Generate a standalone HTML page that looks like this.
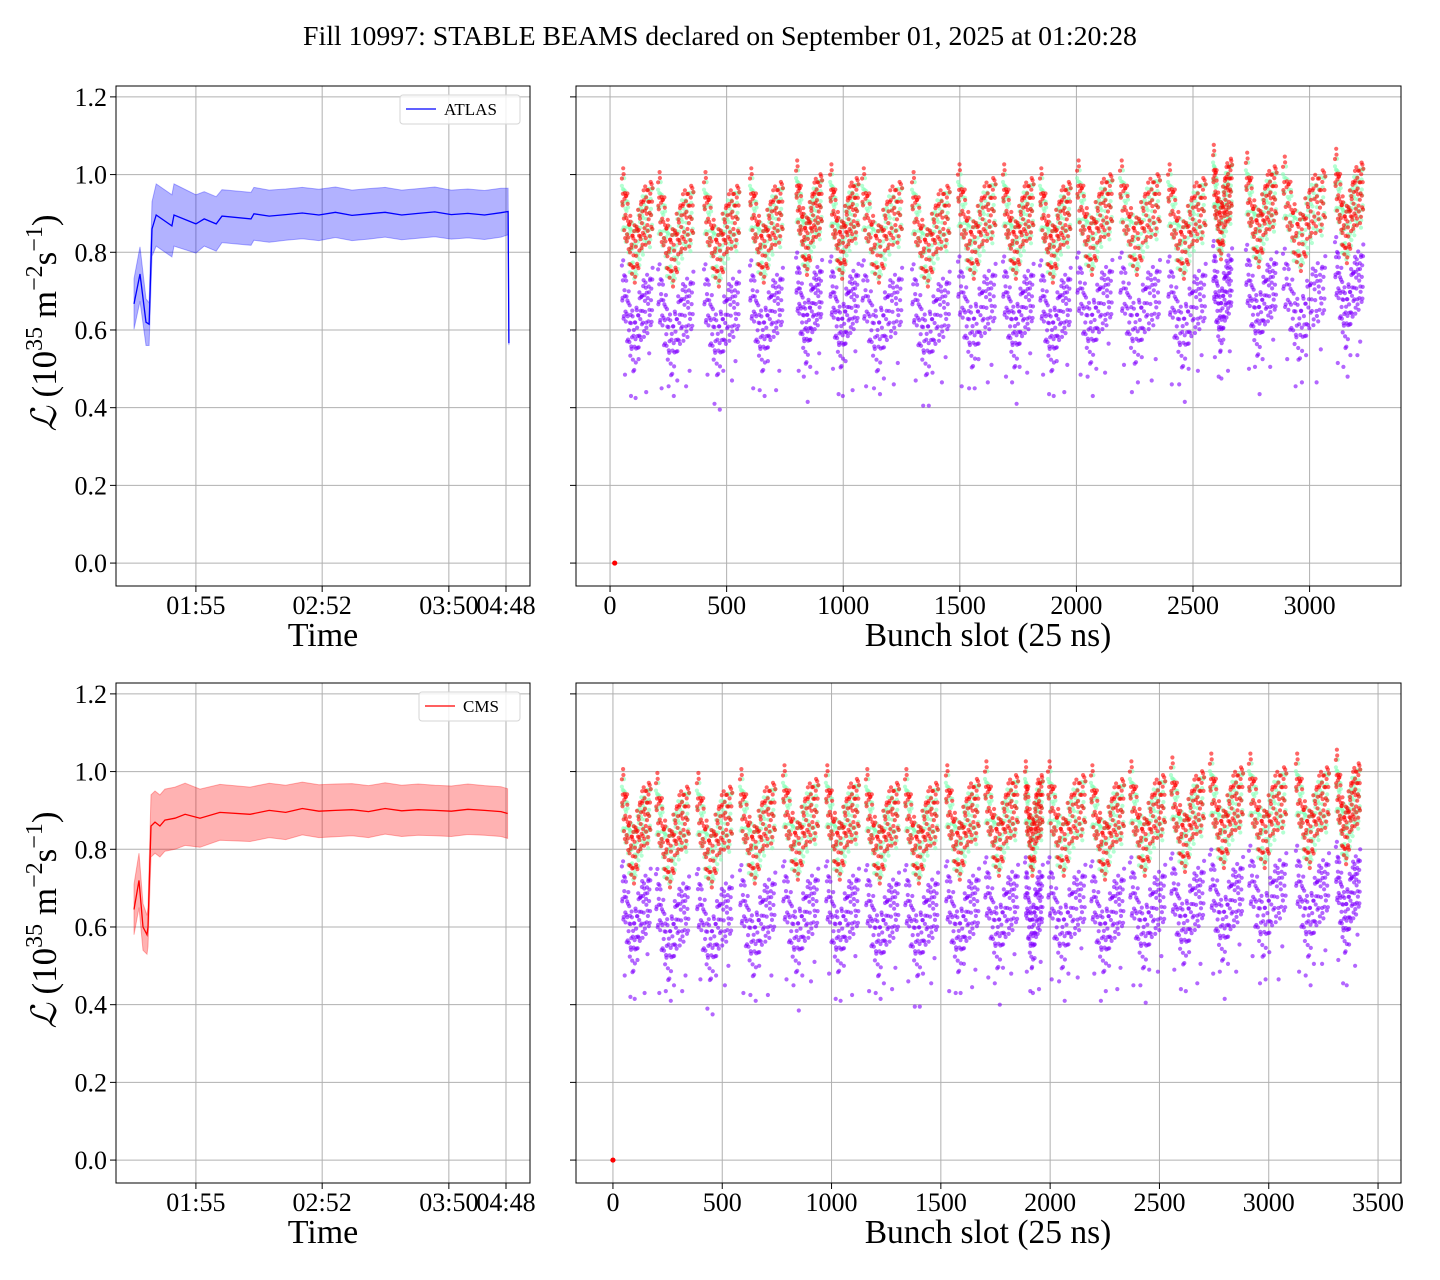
<!DOCTYPE html>
<html><head><meta charset="utf-8"><style>
body{margin:0;background:#fff}
svg{display:block;font-family:"Liberation Serif",serif}
</style></head><body>
<svg id="fig" width="1440" height="1280" viewBox="0 0 1440 1280" xmlns="http://www.w3.org/2000/svg">
<text x="720" y="45" text-anchor="middle" font-size="27.8">Fill 10997: STABLE BEAMS declared on September 01, 2025 at 01:20:28</text>
</svg>
<script>
// ---- data ----
const timeTickPos = [19.3, 49.8, 80.4, 94.2];
const timeTickLabels = ["01:55", "02:52", "03:50", "04:48"];
const lumTicks = [0.0, 0.2, 0.4, 0.6, 0.8, 1.0, 1.2];
const slotTicksTop = [0, 500, 1000, 1500, 2000, 2500, 3000];
const slotTicksBottom = [0, 500, 1000, 1500, 2000, 2500, 3000, 3500];

const atlasT = [4.35,5.8,7.25,8.0,8.7,9.7,13.5,14.0,19.3,21.3,24.2,25.6,32.6,33.3,37,41,45,49,53,57,61,65,69,73,77,81,85,89,93,94.7,94.9];
const atlasL = [0.667,0.744,0.62,0.615,0.86,0.896,0.868,0.896,0.873,0.886,0.873,0.893,0.886,0.899,0.893,0.897,0.901,0.896,0.903,0.895,0.899,0.903,0.896,0.900,0.904,0.897,0.900,0.896,0.902,0.905,0.566];
const atlasH = [0.065,0.07,0.06,0.055,0.07,0.08,0.08,0.08,0.075,0.07,0.07,0.068,0.068,0.068,0.067,0.066,0.066,0.066,0.065,0.065,0.065,0.064,0.064,0.064,0.064,0.063,0.063,0.063,0.063,0.06,0.005];

const cmsT = [4.35,5.56,6.52,7.49,7.73,8.45,9.42,10.6,11.8,14.25,16.7,20.3,25.1,32.4,37,41,45,49,53,57,61,65,69,73,77,81,85,89,93,94.6];
const cmsL = [0.645,0.72,0.60,0.58,0.60,0.86,0.87,0.86,0.875,0.88,0.89,0.88,0.895,0.89,0.90,0.895,0.905,0.898,0.90,0.902,0.897,0.905,0.899,0.902,0.90,0.898,0.903,0.90,0.897,0.892];
const cmsH = [0.065,0.07,0.06,0.05,0.05,0.08,0.08,0.08,0.08,0.08,0.08,0.075,0.072,0.07,0.07,0.07,0.068,0.068,0.068,0.067,0.067,0.066,0.066,0.066,0.065,0.065,0.065,0.064,0.064,0.064];

const topStarts = [51,206,403,600,798,944,1081,1295,1492,1685,1844,2003,2187,2393,2586,2727,2886,3109];
const topLens   = [130,150,150,140,110,120,170,160,160,130,130,150,170,160,80,130,180,120];
const topRed    = [0.87,0.86,0.86,0.87,0.89,0.88,0.87,0.86,0.88,0.88,0.87,0.89,0.89,0.88,0.93,0.91,0.90,0.92];
const topPurple = [0.64,0.63,0.63,0.64,0.66,0.65,0.64,0.63,0.65,0.65,0.64,0.66,0.66,0.65,0.69,0.68,0.67,0.70];

const botStarts = [41,197,384,581,778,974,1157,1336,1523,1702,1885,1990,2187,2365,2553,2731,2909,3124,3307];
const botLens   = [130,150,160,160,160,150,150,150,150,150,80,170,150,160,150,150,170,150,110];
const botRed    = [0.86,0.85,0.85,0.86,0.87,0.87,0.86,0.86,0.87,0.88,0.88,0.88,0.87,0.88,0.89,0.90,0.90,0.90,0.91];
const botPurple = [0.63,0.61,0.61,0.62,0.63,0.63,0.62,0.62,0.63,0.64,0.64,0.64,0.63,0.64,0.65,0.66,0.67,0.67,0.68];

const trainProfile = [0.09,0.05,0.0,-0.05,-0.08,-0.07,-0.03,0.0,0.02,0.03,0.03,0.05];
const jitter = [0.03,-0.02,0.05,-0.04,0.01,0.04,-0.03,0.02,-0.05,0.00,0.03,-0.01,0.04,-0.04,0.02,-0.02,0.05,-0.03,0.01,-0.05,0.03,0.00,-0.02,0.04,-0.01,0.02,-0.04,0.05,-0.03,0.01,0.03,-0.02,0.00,0.04,-0.05,0.02,-0.01,0.03,-0.04,0.05,0.01,-0.03,0.02,-0.02,0.04,0.00,-0.04,0.03];
const outlierFrac = [0.1,0.3,0.55,0.8,0.45,0.9];
const outlierOff  = [-0.17,-0.2,-0.14,-0.18,-0.22,-0.12];

// ---- drawing ----
const NS = "http://www.w3.org/2000/svg";
const svg = document.getElementById('fig');
function mk(tag, attrs, parent){ const e=document.createElementNS(NS,tag); for(const k in attrs) e.setAttribute(k,attrs[k]); (parent||svg).appendChild(e); return e; }
function lin(d0,d1,r0,r1){ return v => r0 + (v-d0)/(d1-d0)*(r1-r0); }

function panel(name, x0, x1, y0, y1, xs, ys, xticks, xlabels, yLabels){
  const g = mk('g',{});
  
  
  const grid = mk('g',{},g);
  
  
  xticks.forEach((t,i)=>{
    const x = xs(t);
    mk('line',{x1:x,x2:x,y1:y0,y2:y1,stroke:'#b0b0b0','stroke-width':1},grid);
    mk('line',{x1:x,x2:x,y1:y1,y2:y1+6,stroke:'#000','stroke-width':1},g);
    const tx = mk('text',{x:x,y:y1+28,'text-anchor':'middle','font-size':26},g);
    
    
    tx.textContent = xlabels[i];
  });
  lumTicks.forEach(t=>{
    const y = ys(t);
    mk('line',{x1:x0,x2:x1,y1:y,y2:y,stroke:'#b0b0b0','stroke-width':1},grid);
    mk('line',{x1:x0-6,x2:x0,y1:y,y2:y,stroke:'#000','stroke-width':1},g);
    if(yLabels){
      const tx = mk('text',{x:x0-9,y:y+9,'text-anchor':'end','font-size':26},g);
      
      
      tx.textContent = t.toFixed(1);
    }
  });
  return g;
}
function frame(g,x0,x1,y0,y1){
  const r = mk('rect',{x:x0,y:y0,width:x1-x0,height:y1-y0,fill:'none',stroke:'#000','stroke-width':1},g);
  
  
}

function lumPanel(name, y0, y1, T, L, H, color, label, legX){
  const x0=116,x1=530;
  const xs = lin(0,100,x0,x1);
  const ys = lin(-0.059,1.228,y1,y0);
  const g = panel(name,x0,x1,y0,y1,xs,ys,timeTickPos,timeTickLabels,true);
  let up='', lo='';
  T.forEach((t,i)=>{ up += (i?'L':'M')+xs(t).toFixed(1)+','+ys(L[i]+H[i]).toFixed(1); });
  for(let i=T.length-1;i>=0;i--){ lo += 'L'+xs(T[i]).toFixed(1)+','+ys(L[i]-H[i]).toFixed(1); }
  const band = mk('path',{d:up+lo+'Z',fill:color,'fill-opacity':0.3,stroke:color,'stroke-opacity':0.3,'stroke-width':1},g);
  
  
  const pts = T.map((t,i)=>xs(t).toFixed(1)+','+ys(L[i]).toFixed(1)).join(' ');
  const pl = mk('polyline',{points:pts,fill:'none',stroke:color,'stroke-width':1.3},g);
  
  
  frame(g,x0,x1,y0,y1);
  const lg = mk('g',{},g);
  
  
  mk('rect',{x:legX,y:y0+9,width:520-legX,height:29,rx:3,fill:'#fff','fill-opacity':0.8,stroke:'#d6d6d6'},lg);
  mk('line',{x1:legX+6,x2:legX+36,y1:y0+23,y2:y0+23,stroke:color,'stroke-width':1.3},lg);
  const lt = mk('text',{x:legX+44,y:y0+29,'font-size':17},lg);
  
  
  lt.textContent = label;
  const xl = mk('text',{x:323,y:y1+60,'text-anchor':'middle','font-size':34},g);
  
  
  xl.textContent='Time';
  const cy=(y0+y1)/2;
  const yl = mk('text',{x:0,y:0,'text-anchor':'middle','font-size':35,transform:`translate(56,${cy-13}) rotate(-90)`},g);
  
  
  yl.innerHTML = '<tspan font-style="italic" font-family="DejaVu Serif, serif">ℒ</tspan> (10<tspan dy="-14" font-size="24">35</tspan><tspan dy="14"> m</tspan><tspan dy="-14" font-size="24">−2</tspan><tspan dy="14">s</tspan><tspan dy="-14" font-size="24">−1</tspan><tspan dy="14">)</tspan>';
}

function profileAt(f){
  const p = f*(trainProfile.length-1);
  const i = Math.min(Math.floor(p), trainProfile.length-2);
  const r = p-i;
  return trainProfile[i]*(1-r)+trainProfile[i+1]*r;
}

function bunchPanel(name, y0, y1, xmin, xmax, ticks, starts, lens, red, purple, zeroSlot){
  const x0=576,x1=1401;
  const xs = lin(xmin,xmax,x0,x1);
  const ys = lin(-0.059,1.228,y1,y0);
  const g = panel(name,x0,x1,y0,y1,xs,ys,ticks,ticks.map(String),false);
  const layers = [['purple','#8000ff',purple,0.9],['green','#80ffb4',red,0.9],['red','#ff0000',red,1.0]];
  layers.forEach(([nm,col,lev,sc],li)=>{
    const sg = mk('g',{fill:col,'fill-opacity':0.6},g);
    
    
    starts.forEach((s,ti)=>{
      const n = jitter.length;
      for(let pass=0;pass<2;pass++){
        for(let i=0;i<n;i++){
          const f = i/(n-1);
          const j = jitter[(i + pass*17 + li*7) % n];
          const v = lev[ti] + profileAt(f)*sc + j*1.5 - (li===1?0.01:0);
          const c = mk('circle',{cx:xs(s+lens[ti]*f+pass*1.5).toFixed(1),cy:ys(v).toFixed(1),r:2.1},sg);
          
          
        }
      }
      if(nm==='purple'){
        outlierFrac.forEach((f,k)=>{
          const c = mk('circle',{cx:xs(s+lens[ti]*f).toFixed(1),cy:ys(lev[ti]+outlierOff[k]+jitter[(ti+k)%jitter.length]*0.5).toFixed(1),r:2.1},sg);
          
          
        });
      }
    });
  });
  const z = mk('circle',{cx:xs(zeroSlot),cy:ys(0),r:2.6,fill:'#ff0000'},g);
  
  
  frame(g,x0,x1,y0,y1);
  const xl = mk('text',{x:988,y:y1+60,'text-anchor':'middle','font-size':33.5},g);
  
  
  xl.textContent='Bunch slot (25 ns)';
}

lumPanel('atlas-luminosity-panel',86,586,atlasT,atlasL,atlasH,'#0000ff','ATLAS',400);
bunchPanel('atlas-bunch-panel',86,586,-146,3392,slotTicksTop,topStarts,topLens,topRed,topPurple,20);
lumPanel('cms-luminosity-panel',683,1183,cmsT,cmsL,cmsH,'#ff0000','CMS',419);
bunchPanel('cms-bunch-panel',683,1183,-169,3605,slotTicksBottom,botStarts,botLens,botRed,botPurple,0);
</script>
</body></html>
